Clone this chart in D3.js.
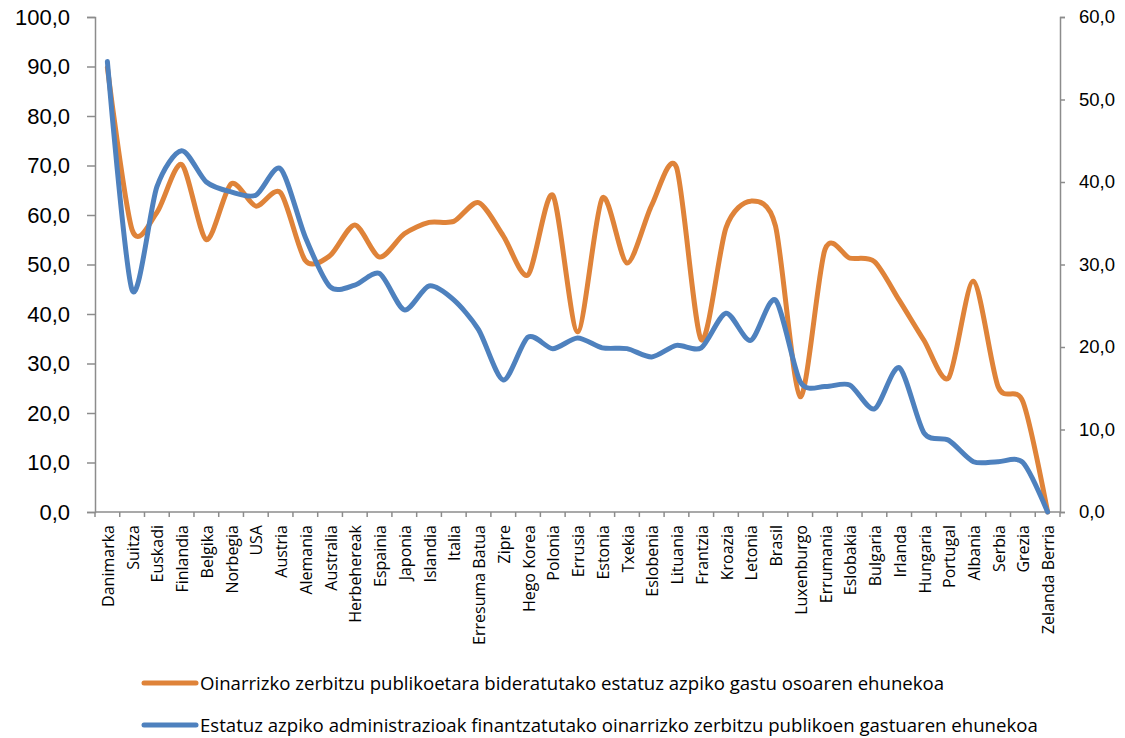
<!DOCTYPE html>
<html>
<head>
<meta charset="utf-8">
<script src="https://cdn.jsdelivr.net/npm/d3@7"></script>
<style>
  body { margin: 0; background: #fff; }
  svg { display: block; font-family: "Open Sans", sans-serif; }
</style>
</head>
<body>
<svg id="chart" width="1125" height="738"></svg>
<script>
// Countries along the horizontal axis
const categories = [
  "Danimarka", "Suitza", "Euskadi", "Finlandia", "Belgika", "Norbegia", "USA",
  "Austria", "Alemania", "Australia", "Herbehereak", "Espainia", "Japonia",
  "Islandia", "Italia", "Erresuma Batua", "Zipre", "Hego Korea", "Polonia",
  "Errusia", "Estonia", "Txekia", "Eslobenia", "Lituania", "Frantzia", "Kroazia",
  "Letonia", "Brasil", "Luxenburgo", "Errumania", "Eslobakia", "Bulgaria",
  "Irlanda", "Hungaria", "Portugal", "Albania", "Serbia", "Grezia", "Zelanda Berria"
];

// Share of total sub-national spending going to basic public services (left axis)
const spendingShare = [
  89.8, 57.0, 60.5, 70.2, 55.0, 66.3, 61.8, 64.5, 50.8, 51.8, 58.0, 51.5, 56.2,
  58.5, 58.7, 62.5, 55.8, 47.9, 64.0, 36.4, 63.4, 50.3, 62.0, 69.6, 34.8, 57.4,
  62.8, 57.8, 23.3, 53.0, 51.3, 50.6, 42.8, 34.7, 27.1, 46.6, 25.3, 22.3, 0.0
];

// Share of basic public services spending financed by sub-national administrations (right axis)
const fundedShare = [
  54.6, 26.9, 39.4, 43.8, 40.0, 38.8, 38.4, 41.6, 33.3, 27.3, 27.5, 28.9, 24.5,
  27.4, 25.7, 22.1, 16.0, 21.2, 19.8, 21.1, 19.9, 19.8, 18.8, 20.2, 19.9, 24.1,
  20.8, 25.7, 15.8, 15.2, 15.4, 12.5, 17.5, 9.6, 8.7, 6.1, 6.1, 6.0, 0.0
];

const leftTicks = [0, 10, 20, 30, 40, 50, 60, 70, 80, 90, 100];
const rightTicks = [0, 10, 20, 30, 40, 50, 60];

const seriesNames = [
  "Oinarrizko zerbitzu publikoetara bideratutako estatuz azpiko gastu osoaren ehunekoa",
  "Estatuz azpiko administrazioak finantzatutako oinarrizko zerbitzu publikoen gastuaren ehunekoa"
];
const colors = ["#DF8339", "#4E81BE"];

const svg = d3.select("#chart");
const plot = { left: 95, right: 1060, top: 17, bottom: 512 };
const axisColor = "#8c8c8c";
const fmt = v => d3.format(".1f")(v).replace(".", ",");

const x = d3.scaleBand().domain(categories).range([plot.left, plot.right]);
const yLeft = d3.scaleLinear().domain([0, 100]).range([plot.bottom, plot.top]);
const yRight = d3.scaleLinear().domain([0, 60]).range([plot.bottom, plot.top]);

// Left axis
const gl = svg.append("g")
  .attr("transform", `translate(${plot.left},0)`)
  .call(d3.axisLeft(yLeft).tickValues(leftTicks).tickFormat(fmt).tickSize(8).tickPadding(17));
gl.selectAll("text").style("font-size", "22px").attr("fill", "#000");

// Right axis
const gr = svg.append("g")
  .attr("transform", `translate(${plot.right},0)`)
  .call(d3.axisRight(yRight).tickValues(rightTicks).tickFormat(fmt).tickSize(5).tickPadding(14));
gr.selectAll("text").style("font-size", "18.5px").attr("fill", "#000");

// Category axis with tick marks on band boundaries
const gx = svg.append("g").attr("transform", `translate(0,${plot.bottom})`);
gx.append("line")
  .attr("x1", plot.left).attr("x2", plot.right)
  .attr("stroke", axisColor).attr("stroke-width", 1.5);
gx.selectAll("line.tk")
  .data(categories.concat([null]))
  .join("line")
  .attr("class", "tk")
  .attr("x1", (d, i) => plot.left + i * x.step())
  .attr("x2", (d, i) => plot.left + i * x.step())
  .attr("y1", 0).attr("y2", 5)
  .attr("stroke", axisColor).attr("stroke-width", 1.5);
gx.selectAll("text")
  .data(categories)
  .join("text")
  .attr("transform", d => `translate(${x(d) + x.bandwidth() / 2 + 1},13) rotate(-90)`)
  .attr("text-anchor", "end")
  .attr("dy", "0.35em")
  .style("font-size", "16px")
  .text(d => d);

[gl, gr].forEach(g => {
  g.select(".domain").attr("stroke", axisColor).attr("stroke-width", 1.5);
  g.selectAll(".tick line").attr("stroke", axisColor).attr("stroke-width", 1.5);
});

// Smoothed series lines
const cx = (d, i) => x(categories[i]) + x.bandwidth() / 2;
const curve = d3.curveCardinal.tension(0.2);
const lineLeft = d3.line().x(cx).y(d => yLeft(d)).curve(curve);
const lineRight = d3.line().x(cx).y(d => yRight(d)).curve(curve);

svg.append("path")
  .attr("d", lineLeft(spendingShare))
  .attr("fill", "none").attr("stroke", colors[0])
  .attr("stroke-width", 5).attr("stroke-linecap", "round").attr("stroke-linejoin", "round");
svg.append("path")
  .attr("d", lineRight(fundedShare))
  .attr("fill", "none").attr("stroke", colors[1])
  .attr("stroke-width", 5).attr("stroke-linecap", "round").attr("stroke-linejoin", "round");

// Legend
const legend = svg.append("g");
const legendRows = [683, 725];
seriesNames.forEach((name, i) => {
  const row = legend.append("g").attr("transform", `translate(0,${legendRows[i]})`);
  row.append("line")
    .attr("x1", 144).attr("x2", 196)
    .attr("stroke", colors[i]).attr("stroke-width", 5).attr("stroke-linecap", "round");
  row.append("text")
    .attr("x", 200).attr("dy", "0.35em")
    .style("font-size", "18.6px")
    .text(name);
});
</script>
</body>
</html>
